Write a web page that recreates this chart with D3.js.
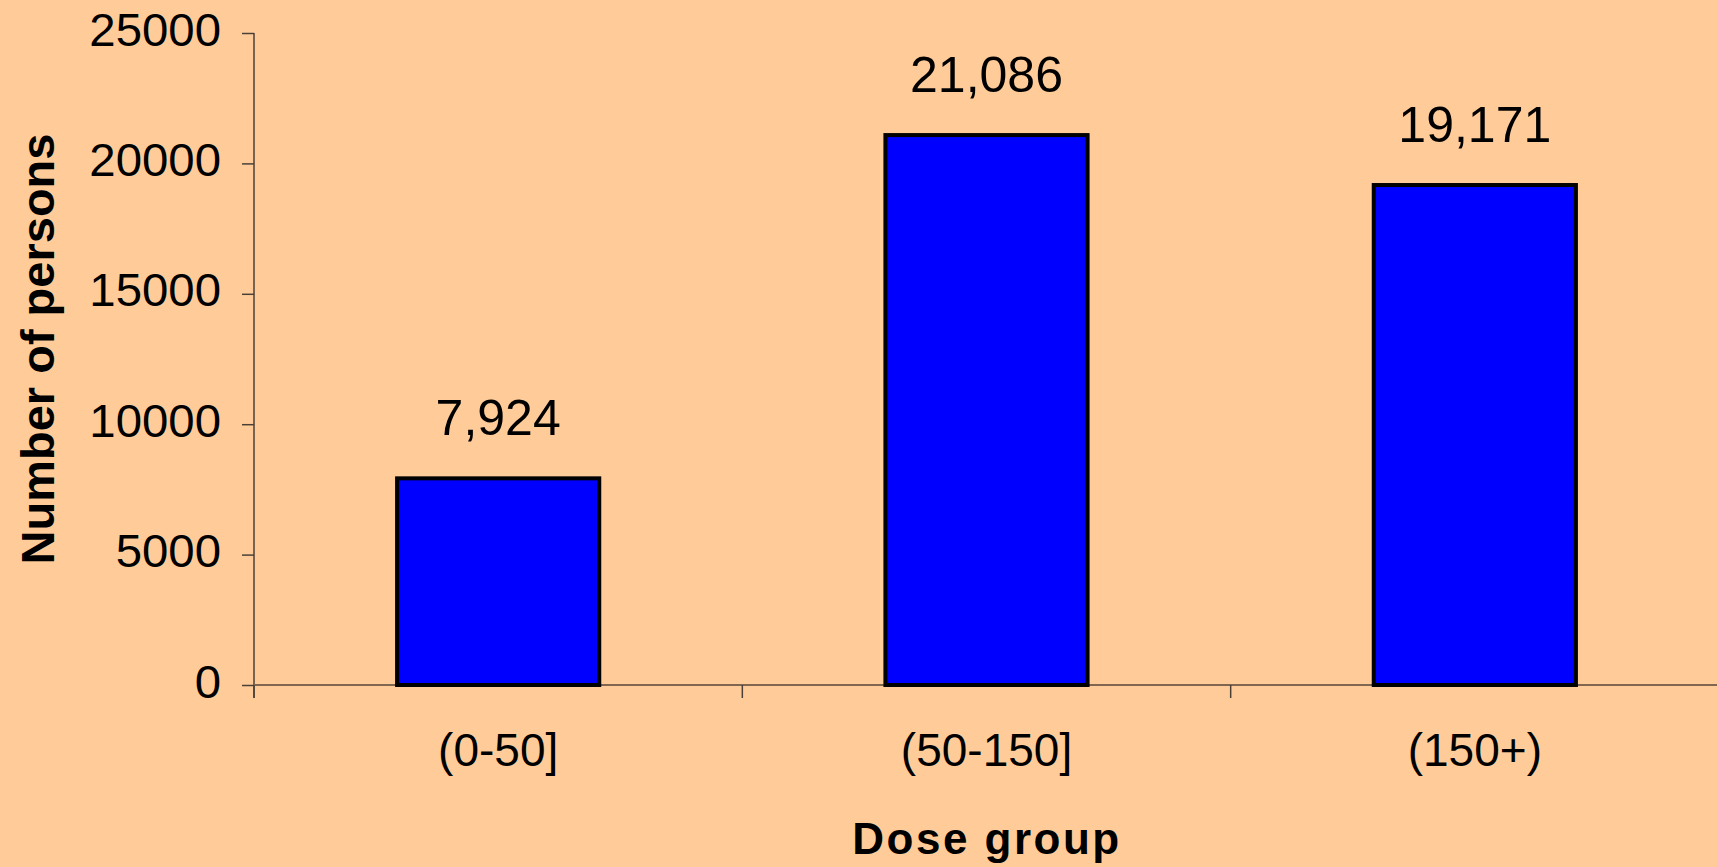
<!DOCTYPE html>
<html>
<head>
<meta charset="utf-8">
<script src="https://cdn.jsdelivr.net/npm/d3@7"></script>
<style>
html,body{margin:0;padding:0;background:#FFCC99;}
svg{display:block;font-family:"Liberation Sans",Arial,sans-serif;}
</style>
</head>
<body>
<script>
const categories = ["(0-50]", "(50-150]", "(150+)"];
const values = [7924, 21086, 19171];
const yTicks = [0, 5000, 10000, 15000, 20000, 25000];
const xTitle = "Dose group";
const yTitle = "Number of persons";

(function () {
const W = 1717, H = 867;
const svg = d3.select("body").append("svg").attr("width", W).attr("height", H);
svg.append("rect").attr("width", W).attr("height", H).attr("fill", "#FFCC99");

const pLeft = 254, pRight = 1719, pTop = 33, pBottom = 685;
const x = d3.scaleBand().domain(categories).range([pLeft, pRight]).padding(0);
const y = d3.scaleLinear().domain([0, 25000]).range([pBottom, pTop]);
const barW = x.bandwidth() * 0.414;

// y axis
const yAxis = svg.append("g").attr("transform", `translate(${pLeft},0)`)
  .call(d3.axisLeft(y).tickValues(yTicks).tickSize(12).tickPadding(20).tickFormat(d3.format("d")));
yAxis.select(".domain").remove();
yAxis.selectAll(".tick line").attr("stroke", "#4a4038").attr("stroke-width", 1.5);
yAxis.selectAll(".tick text").attr("font-size", 46).attr("fill", "#000").attr("dy", null)
  .attr("font-family", "Liberation Sans, Arial, sans-serif").attr("y", 12)
  .attr("transform", "scale(1.03,1)");
svg.append("line").attr("x1", pLeft).attr("x2", pLeft).attr("y1", y(25000)).attr("y2", pBottom + 13)
  .attr("stroke", "#4a4038").attr("stroke-width", 1.5);

// x axis line
svg.append("line").attr("x1", pLeft).attr("x2", W).attr("y1", pBottom).attr("y2", pBottom)
  .attr("stroke", "#806650").attr("stroke-width", 2.2);

// x boundary ticks
const bounds = categories.map(c => x(c)).concat([x(categories[categories.length-1]) + x.bandwidth()]);
svg.selectAll(".xt").data(bounds).enter().append("line")
  .attr("x1", d => d).attr("x2", d => d).attr("y1", pBottom).attr("y2", pBottom + 13)
  .attr("stroke", "#4a4038").attr("stroke-width", 1.5);

// bars
svg.selectAll(".bar").data(values).enter().append("rect")
  .attr("x", (d, i) => x(categories[i]) + x.bandwidth() / 2 - barW / 2)
  .attr("y", d => y(d))
  .attr("width", barW)
  .attr("height", d => pBottom - y(d))
  .attr("fill", "#0000FF").attr("stroke", "#000").attr("stroke-width", 4);

// value labels
svg.selectAll(".vl").data(values).enter().append("text")
  .attr("x", (d, i) => x(categories[i]) + x.bandwidth() / 2)
  .attr("y", d => y(d) - 43)
  .attr("text-anchor", "middle").attr("font-size", 50).attr("fill", "#000")
  .text(d => d3.format(",")(d));

// category labels
svg.selectAll(".cl").data(categories).enter().append("text")
  .attr("x", d => x(d) + x.bandwidth() / 2)
  .attr("y", 766)
  .attr("text-anchor", "middle").attr("font-size", 46).attr("fill", "#000")
  .text(d => d);

// axis titles
svg.append("text").attr("x", 987).attr("y", 854).attr("text-anchor", "middle")
  .attr("font-size", 44).attr("font-weight", "bold").attr("letter-spacing", 2.5).text(xTitle);
svg.append("text").attr("transform", "translate(54,349) rotate(-90)").attr("text-anchor", "middle")
  .attr("font-size", 47).attr("font-weight", "bold").text(yTitle);
})();
</script>
</body>
</html>
